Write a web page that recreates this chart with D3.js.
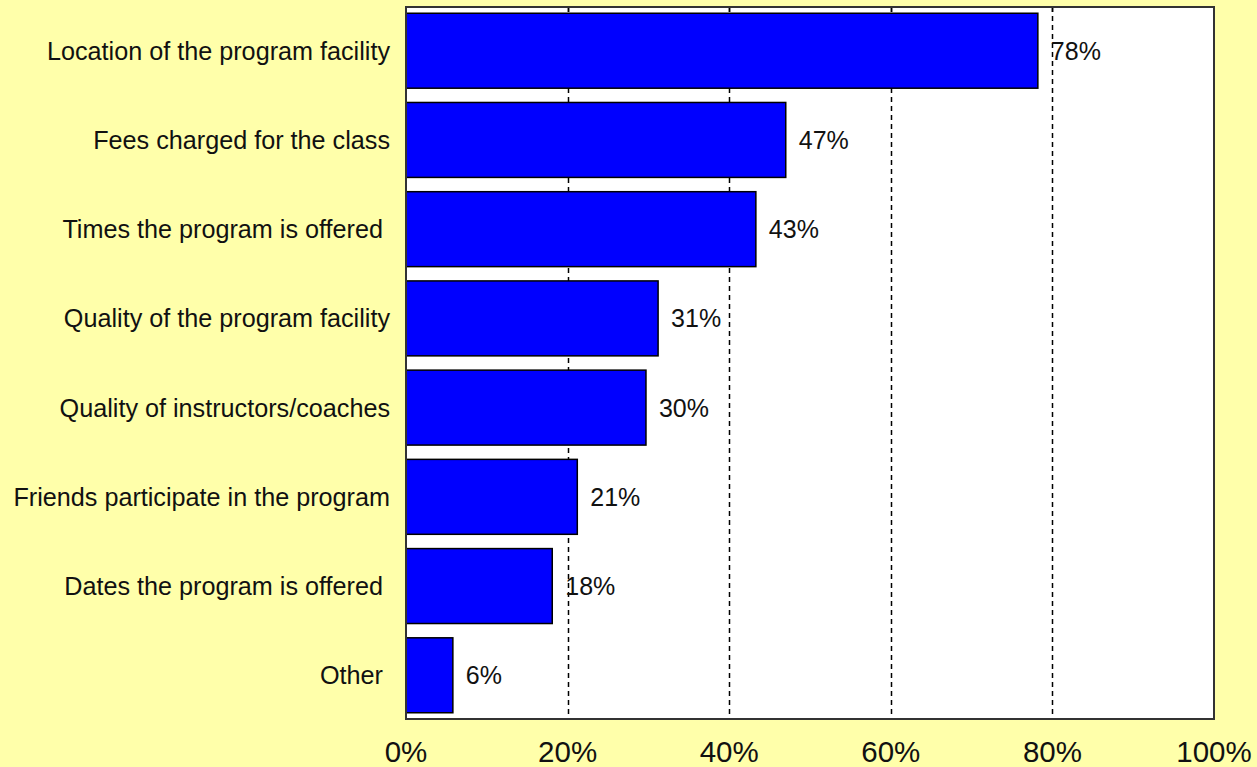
<!DOCTYPE html>
<html>
<head>
<meta charset="utf-8">
<script src="https://cdn.jsdelivr.net/npm/d3@7"></script>
<style>
  html, body { margin: 0; padding: 0; background: #FFFFAA; }
  svg { display: block; }
  text { font-family: "Liberation Sans", Arial, sans-serif; fill: #111; white-space: pre; }
</style>
</head>
<body>
<svg id="chart" width="1257" height="767"></svg>
<script>
const categories = [
  "Location of the program facility",
  "Fees charged for the class",
  "Times the program is offered ",
  "Quality of the program facility",
  "Quality of instructors/coaches",
  "Friends participate in the program",
  "Dates the program is offered ",
  "Other "
];
const values = [78.2, 47.0, 43.3, 31.2, 29.7, 21.2, 18.1, 5.8];
const valueLabels = ["78%", "47%", "43%", "31%", "30%", "21%", "18%", "6%"];
const tickValues = [0, 20, 40, 60, 80, 100];
const tickLabels = ["0%", "20%", "40%", "60%", "80%", "100%"];
const gridValues = [20, 40, 60, 80];

const svg = d3.select("#chart");
const W = 1257, H = 767;
svg.append("rect").attr("width", W).attr("height", H).attr("fill", "#FFFFAA");

const plot = { left: 406, right: 1214, top: 7, bottom: 719 };

const x = d3.scaleLinear().domain([0, 100]).range([plot.left, plot.right]);
const y = d3.scaleBand().domain(categories).range([plot.top, plot.bottom])
  .paddingInner(0.16).paddingOuter(0.07);

// plot background
svg.append("rect")
  .attr("x", plot.left).attr("y", plot.top)
  .attr("width", plot.right - plot.left).attr("height", plot.bottom - plot.top)
  .attr("fill", "#ffffff");

// gridlines
svg.append("g").selectAll("line").data(gridValues).join("line")
  .attr("x1", d => Math.round(x(d)) + 0.5).attr("x2", d => Math.round(x(d)) + 0.5)
  .attr("y1", plot.top).attr("y2", plot.bottom)
  .attr("stroke", "#000").attr("stroke-width", 1.5)
  .attr("stroke-dasharray", "5,4");

// top tick marks
svg.append("g").selectAll("line").data(gridValues).join("line")
  .attr("x1", d => Math.round(x(d)) + 0.5).attr("x2", d => Math.round(x(d)) + 0.5)
  .attr("y1", plot.top).attr("y2", plot.top + 5)
  .attr("stroke", "#000").attr("stroke-width", 1.5);

// bars
svg.append("g").selectAll("rect").data(categories).join("rect")
  .attr("x", x(0))
  .attr("y", d => y(d))
  .attr("width", (d, i) => x(values[i]) - x(0))
  .attr("height", y.bandwidth())
  .attr("fill", "#0000FF")
  .attr("stroke", "#000")
  .attr("stroke-width", 1.5);

// value labels
svg.append("g").selectAll("text").data(categories).join("text")
  .attr("x", (d, i) => x(values[i]) + 13)
  .attr("y", d => y(d) + y.bandwidth() / 2)
  .attr("dy", "0.36em")
  .attr("font-size", 25)
  .text((d, i) => valueLabels[i]);

// border
svg.append("rect")
  .attr("x", plot.left).attr("y", plot.top)
  .attr("width", plot.right - plot.left).attr("height", plot.bottom - plot.top)
  .attr("fill", "none").attr("stroke", "#333").attr("stroke-width", 2);

// category axis labels
svg.append("g").selectAll("text").data(categories).join("text")
  .attr("x", 390)
  .attr("y", d => y(d) + y.bandwidth() / 2)
  .attr("dy", "0.36em")
  .attr("text-anchor", "end")
  .attr("font-size", 25.2)
  .text(d => d);

// x axis tick labels
svg.append("g").selectAll("text").data(tickValues).join("text")
  .attr("x", d => x(d))
  .attr("y", 762)
  .attr("text-anchor", "middle")
  .attr("font-size", 29.5)
  .text((d, i) => tickLabels[i]);
</script>
</body>
</html>
